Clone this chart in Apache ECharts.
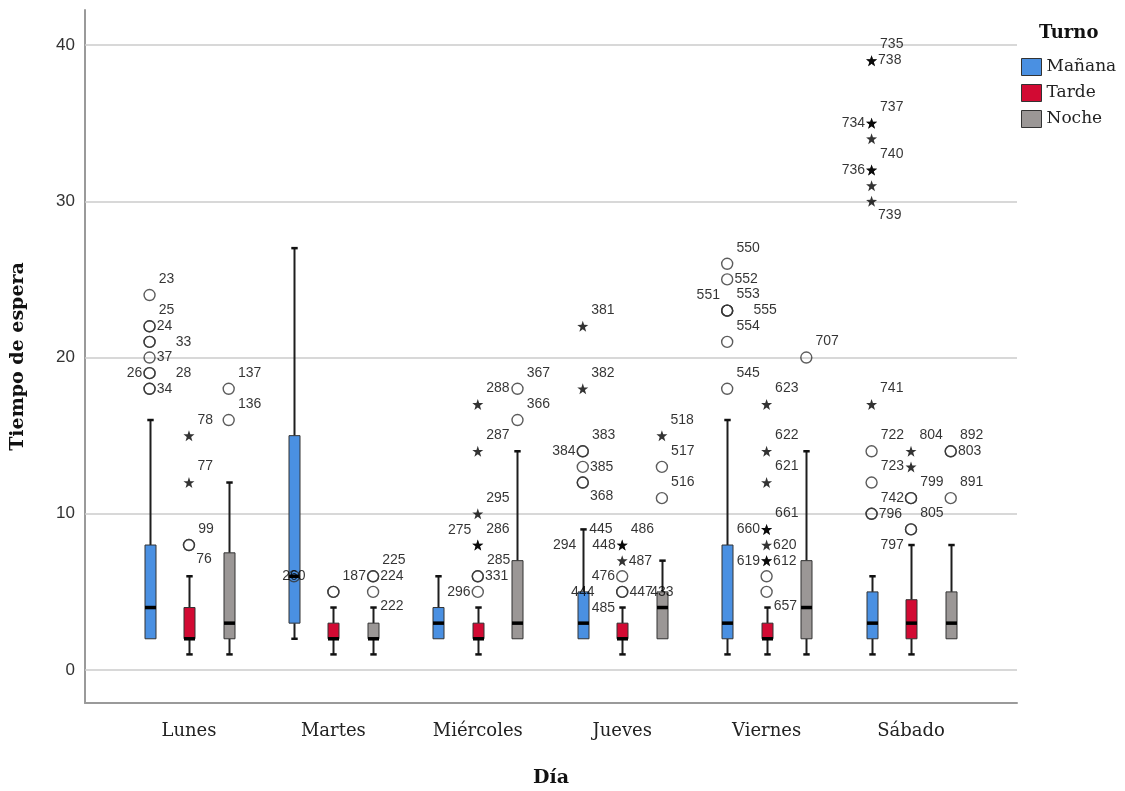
<!DOCTYPE html>
<html>
<head>
<meta charset="utf-8">
<script src="https://cdn.jsdelivr.net/npm/echarts@6/dist/echarts.min.js"></script>
<style>
  html, body { margin: 0; padding: 0; background: #fff; }
  #chart { width: 1125px; height: 791px; }
</style>
</head>
<body>
<div id="chart"></div>
<script>
// Días y turnos
const days = ['Lunes', 'Martes', 'Miércoles', 'Jueves', 'Viernes', 'Sábado'];
const shifts = ['Mañana', 'Tarde', 'Noche'];
const yTicks = [0, 10, 20, 30, 40];

// Resumen por día: [mínimo, Q1, mediana, Q3, máximo] (bigotes sin atípicos)
const statsManana = [[2, 2, 4, 8, 16], [2, 3, 6, 15, 27], [2, 2, 3, 4, 6], [2, 2, 3, 5, 9], [1, 2, 3, 8, 16], [1, 2, 3, 5, 6]];
const statsTarde  = [[1, 2, 2, 4, 6], [1, 2, 2, 3, 4], [1, 2, 2, 3, 4], [1, 2, 2, 3, 4], [1, 2, 2, 3, 4], [1, 2, 3, 4.5, 8]];
const statsNoche  = [[1, 2, 3, 7.5, 12], [1, 2, 2, 3, 4], [2, 2, 3, 7, 14], [2, 2, 4, 5, 7], [1, 2, 4, 7, 14], [2, 2, 3, 5, 8]];

// Casos atípicos: [día, valor, tipo ('o' atípico, '*' extremo, '' solo etiqueta), id del caso]
const outManana = [
  [0, 24, 'o', '23'], [0, 22, 'o', '25'], [0, 22, 'o', '24'], [0, 21, 'o', '33'], [0, 21, 'o', ''],
  [0, 20, 'o', '37'], [0, 19, 'o', '26'], [0, 19, 'o', '28'], [0, 18, 'o', '34'], [0, 18, 'o', ''],
  [1, 6, 'o', '260'],
  [3, 22, '*', '381'], [3, 18, '*', '382'], [3, 14, 'o', '383'], [3, 14, 'o', '384'], [3, 13, 'o', '385'],
  [3, 12, 'o', '368'], [3, 12, 'o', ''], [3, 9, '', '445'], [3, 8, '', '294'], [3, 5, '', '444'],
  [4, 26, 'o', '550'], [4, 25, 'o', '552'], [4, 23, 'o', '551'], [4, 23, 'o', '553'], [4, 23, 'o', '555'],
  [4, 21, 'o', '554'], [4, 18, 'o', '545'],
  [5, 39, '*', '735'], [5, 39, '*', '738'], [5, 35, '*', '737'], [5, 35, '*', '734'], [5, 34, '*', ''],
  [5, 32, '*', '740'], [5, 32, '*', '736'], [5, 31, '*', ''], [5, 30, '*', '739'],
  [5, 17, '*', '741'], [5, 14, 'o', '722'], [5, 12, 'o', '723'], [5, 10, 'o', '742'], [5, 10, 'o', '796']
];
const outTarde = [
  [0, 15, '*', '78'], [0, 12, '*', '77'], [0, 8, 'o', '99'], [0, 8, 'o', '76'],
  [1, 5, 'o', '187'], [1, 5, 'o', ''],
  [2, 17, '*', '288'], [2, 14, '*', '287'], [2, 10, '*', '295'], [2, 8, '*', '275'], [2, 8, '*', '286'],
  [2, 6, 'o', '285'], [2, 6, 'o', '331'], [2, 5, 'o', '296'],
  [3, 8, '*', '448'], [3, 8, '*', '486'], [3, 7, '*', '487'], [3, 6, 'o', '476'], [3, 5, 'o', '447'], [3, 5, 'o', '485'],
  [4, 17, '*', '623'], [4, 14, '*', '622'], [4, 12, '*', '621'], [4, 9, '*', '660'], [4, 9, '*', '661'],
  [4, 8, '*', '620'], [4, 7, '*', '619'], [4, 7, '*', '612'], [4, 6, 'o', ''], [4, 5, 'o', '657'],
  [5, 14, '*', '804'], [5, 13, '*', ''], [5, 11, 'o', '799'], [5, 11, 'o', ''], [5, 9, 'o', '805'], [5, 9, 'o', '797']
];
const outNoche = [
  [0, 18, 'o', '137'], [0, 16, 'o', '136'],
  [1, 6, 'o', '225'], [1, 6, 'o', '224'], [1, 5, 'o', '222'],
  [2, 18, 'o', '367'], [2, 16, 'o', '366'],
  [3, 15, '*', '518'], [3, 13, 'o', '517'], [3, 11, 'o', '516'], [3, 5, '', '433'],
  [4, 20, 'o', '707'],
  [5, 14, 'o', '892'], [5, 14, 'o', '803'], [5, 11, 'o', '891']
];

// Lado de cada etiqueta de caso respecto a su marca
const labelSide = {
  '23': 'ar', '25': 'ar', '24': 'r', '33': 'rr', '37': 'r', '26': 'l', '28': 'rr', '34': 'r',
  '260': 'c',
  '381': 'ar', '382': 'ar', '383': 'ar', '384': 'l', '385': 'r', '368': 'br', '445': 'r', '294': 'l', '444': 'c',
  '550': 'ar', '552': 'r', '551': 'al', '553': 'ar', '555': 'rr', '554': 'ar', '545': 'ar',
  '735': 'ar', '738': 'r', '737': 'ar', '734': 'l', '740': 'ar', '736': 'l', '739': 'br',
  '741': 'ar', '722': 'ar', '723': 'ar', '742': 'ar', '796': 'r',
  '78': 'ar', '77': 'ar', '99': 'ar', '76': 'br', '187': 'ar',
  '288': 'ar', '287': 'ar', '295': 'ar', '275': 'al', '286': 'ar', '285': 'ar', '331': 'r', '296': 'l',
  '448': 'l', '486': 'ar', '487': 'r', '476': 'l', '447': 'r', '485': 'bl',
  '623': 'ar', '622': 'ar', '621': 'ar', '660': 'l', '661': 'ar', '620': 'r', '619': 'l', '612': 'r', '657': 'br',
  '804': 'ar', '799': 'ar', '805': 'ar', '797': 'bl',
  '137': 'ar', '136': 'ar', '225': 'ar', '224': 'r', '222': 'br', '367': 'ar', '366': 'ar',
  '518': 'ar', '517': 'ar', '516': 'ar', '433': 'c', '707': 'ar', '892': 'ar', '803': 'r', '891': 'ar'
};

const colors = { 'Mañana': '#4a90e2', 'Tarde': '#d20a33', 'Noche': '#9b9796' };
const shiftOffset = { 'Mañana': -0.273, 'Tarde': 0, 'Noche': 0.275 };

const labelFont = { fontFamily: 'Liberation Sans', fontSize: 14, color: '#000' };
const placements = {
  ar: { position: 'right', distance: 3, offset: [0, -16] },
  r:  { position: 'right', distance: 1, offset: [0, 0] },
  rr: { position: 'right', distance: 20, offset: [0, 0] },
  l:  { position: 'left', distance: 1, offset: [0, 0] },
  al: { position: 'left', distance: 1, offset: [0, -15] },
  br: { position: 'right', distance: 1, offset: [0, 14] },
  bl: { position: 'left', distance: 1, offset: [0, 16] },
  c:  { position: 'inside', distance: 0, offset: [0, 0] }
};

const STAR = 'path://M0,-10L2.35,-3.24L9.51,-3.09L3.8,1.24L5.88,8.09L0,4.1L-5.88,8.09L-3.8,1.24L-9.51,-3.09L-2.35,-3.24Z';

function outlierItems(list, shift) {
  return list.map(([d, v, kind, id]) => {
    const item = { value: [d + shiftOffset[shift], v] };
    if (kind === '*') {
      item.symbol = STAR;
      item.symbolSize = 11;
      item.itemStyle = { color: '#000', borderWidth: 0 };
    } else if (kind === 'o') {
      item.symbol = 'circle';
      item.symbolSize = 11;
      item.itemStyle = { color: 'rgba(255,255,255,0)', borderColor: '#333', borderWidth: 1.4 };
    } else {
      item.symbol = 'circle';
      item.symbolSize = 11;
      item.itemStyle = { color: 'rgba(0,0,0,0)', borderWidth: 0 };
    }
    if (id) {
      item.label = Object.assign({ show: true, formatter: id }, labelFont, placements[labelSide[id] || 'ar']);
    }
    return item;
  });
}

function renderBox(params, api) {
  const x = api.value(0);
  const lo = api.value(1), q1 = api.value(2), med = api.value(3), q3 = api.value(4), hi = api.value(5);
  const pLo = api.coord([x, lo]), pQ1 = api.coord([x, q1]), pMed = api.coord([x, med]);
  const pQ3 = api.coord([x, q3]), pHi = api.coord([x, hi]);
  const cx = Math.round(pQ1[0]) + 0.5;
  const half = 5.5, cap = 3.2;
  const whisker = { stroke: '#1e1e1e', lineWidth: 2 };
  const children = [];
  if (hi > q3) {
    children.push({ type: 'line', shape: { x1: cx, y1: pQ3[1], x2: cx, y2: pHi[1] }, style: whisker });
    children.push({ type: 'line', shape: { x1: cx - cap, y1: pHi[1], x2: cx + cap, y2: pHi[1] }, style: { stroke: '#111', lineWidth: 2.5 } });
  }
  if (lo < q1) {
    children.push({ type: 'line', shape: { x1: cx, y1: pQ1[1], x2: cx, y2: pLo[1] }, style: whisker });
    children.push({ type: 'line', shape: { x1: cx - cap, y1: pLo[1], x2: cx + cap, y2: pLo[1] }, style: { stroke: '#111', lineWidth: 2.5 } });
  }
  children.push({
    type: 'rect',
    shape: { x: cx - half, y: pQ3[1], width: half * 2, height: pQ1[1] - pQ3[1] },
    style: { fill: api.visual('color'), stroke: '#333', lineWidth: 1 }
  });
  children.push({
    type: 'line',
    shape: { x1: cx - half, y1: pMed[1], x2: cx + half, y2: pMed[1] },
    style: { stroke: '#000', lineWidth: 3.5 }
  });
  return { type: 'group', children };
}

function boxSeries(shift, stats) {
  return {
    name: shift,
    type: 'custom',
    z: 3,
    silent: true,
    itemStyle: { color: colors[shift] },
    renderItem: renderBox,
    encode: { x: 0, y: [1, 2, 3, 4, 5] },
    data: stats.map((s, i) => [i + shiftOffset[shift], ...s])
  };
}

function outlierSeries(shift, list) {
  return {
    name: 'Casos ' + shift,
    type: 'scatter',
    z: 4,
    silent: true,
    emphasis: { disabled: true },
    data: outlierItems(list, shift)
  };
}

const chart = echarts.init(document.getElementById('chart'), null, { renderer: 'canvas' });

const option = {
  animation: false,
  backgroundColor: '#ffffff',
  grid: { left: 85, right: 108, top: 10, bottom: 88, outerBoundsMode: 'none' },
  xAxis: {
    type: 'value',
    min: -0.72,
    max: 5.734,
    name: 'Día',
    nameLocation: 'middle',
    nameGap: 66,
    nameTextStyle: { fontFamily: 'DejaVu Serif', fontWeight: 'bold', fontSize: 19, color: '#111' },
    axisLine: { show: true, onZero: false, lineStyle: { color: '#9a9a9a', width: 2 } },
    axisTick: { show: false },
    splitLine: { show: false },
    axisLabel: {
      customValues: [0, 1, 2, 3, 4, 5],
      formatter: v => days[Math.round(v)],
      fontFamily: 'DejaVu Serif',
      fontSize: 18,
      color: '#222',
      margin: 19
    }
  },
  yAxis: {
    type: 'value',
    min: -2.11,
    max: 42.24,
    name: 'Tiempo de espera',
    nameLocation: 'middle',
    nameGap: 57,
    nameRotate: 90,
    nameTextStyle: { fontFamily: 'DejaVu Serif', fontWeight: 'bold', fontSize: 19, color: '#111' },
    axisLine: { show: true, onZero: false, lineStyle: { color: '#9a9a9a', width: 2 } },
    axisTick: { show: false },
    splitLine: { show: false },
    axisLabel: {
      customValues: yTicks,
      fontFamily: 'Liberation Sans',
      fontSize: 17,
      color: '#333',
      margin: 10
    }
  },
  legend: {
    orient: 'vertical',
    left: 1021,
    top: 58,
    padding: 0,
    itemWidth: 20,
    itemHeight: 17,
    itemGap: 8,
    icon: 'rect',
    selectedMode: false,
    data: shifts,
    itemStyle: { borderColor: '#333', borderWidth: 1 },
    textStyle: { fontFamily: 'DejaVu Serif', fontSize: 17, color: '#222', lineHeight: 17 }
  },
  graphic: [{
    type: 'text',
    left: 1039,
    top: 24,
    style: { text: 'Turno', font: 'bold 18px "DejaVu Serif"', fill: '#111' }
  }],
  series: [
    {
      name: 'Rejilla',
      type: 'scatter',
      data: [],
      silent: true,
      markLine: {
        silent: true,
        z: 1,
        symbol: 'none',
        animation: false,
        label: { show: false },
        lineStyle: { color: '#cbcbcb', width: 1.5, type: 'solid' },
        data: yTicks.map(v => ({ yAxis: v }))
      }
    },
    boxSeries('Mañana', statsManana),
    boxSeries('Tarde', statsTarde),
    boxSeries('Noche', statsNoche),
    outlierSeries('Mañana', outManana),
    outlierSeries('Tarde', outTarde),
    outlierSeries('Noche', outNoche)
  ]
};

chart.setOption(option);
</script>
</body>
</html>
